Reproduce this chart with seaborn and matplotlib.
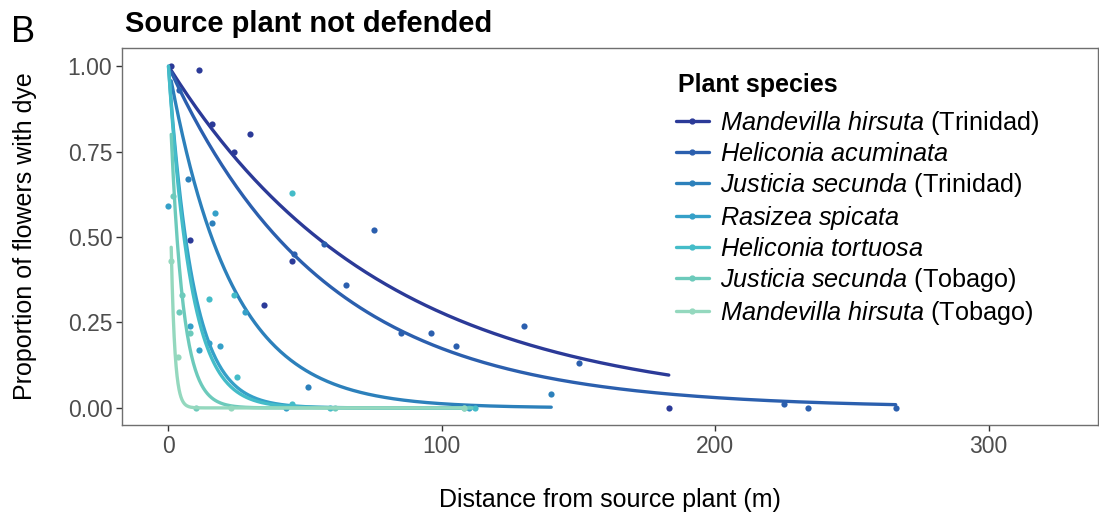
import numpy as np
import pandas as pd
import seaborn as sns
import matplotlib.pyplot as plt
from matplotlib.lines import Line2D

# species in legend order, with the island shown after the name
species = ['Mandevilla hirsuta', 'Heliconia acuminata', 'Justicia secunda',
           'Rasizea spicata', 'Heliconia tortuosa', 'Justicia secunda',
           'Mandevilla hirsuta']
island = ['Trinidad', '', 'Trinidad', '', '', 'Tobago', 'Tobago']
keys = ['MH_T', 'HA', 'JS_T', 'RS', 'HT', 'JS_Tob', 'MH_Tob']

dist_mh_trin = [1, 11, 16, 24, 30, 35, 45, 8, 183]
prop_mh_trin = [1.00, 0.99, 0.83, 0.75, 0.80, 0.30, 0.43, 0.49, 0.00]
dist_ha = [4, 46, 57, 65, 75, 85, 96, 105, 130, 150, 225, 234, 266]
prop_ha = [0.93, 0.45, 0.48, 0.36, 0.52, 0.22, 0.22, 0.18, 0.24, 0.13, 0.01, 0.00, 0.00]
dist_js_trin = [7, 16, 51, 140]
prop_js_trin = [0.67, 0.54, 0.06, 0.04]
dist_rs = [0, 17, 8, 11, 19, 15, 28, 43, 110]
prop_rs = [0.59, 0.57, 0.24, 0.17, 0.18, 0.19, 0.28, 0.00, 0.00]
dist_ht = [45, 24, 15, 25, 45, 59, 112]
prop_ht = [0.63, 0.33, 0.32, 0.09, 0.01, 0.00, 0.00]
dist_js_tob = [1.5, 5, 8, 4, 10, 61, 108]
prop_js_tob = [0.62, 0.33, 0.22, 0.28, 0.00, 0.00, 0.00]
dist_mh_tob = [1, 3.6, 23, 108]
prop_mh_tob = [0.43, 0.15, 0.00, 0.00]

# fitted exponential decay rate and span of each fitted curve
decay_rate = [0.0128, 0.0175, 0.044, 0.112, 0.122, 0.223, 0.755]
curve_from = [1, 1, 1, 0, 0, 1, 1]
curve_to = [183, 266, 140, 110, 112, 111, 108]

colors = ['#2b3a98', '#2b5fae', '#2c80bb', '#35a0c8', '#44bcc8', '#6ccabb', '#94d8be']

dists = [dist_mh_trin, dist_ha, dist_js_trin, dist_rs, dist_ht, dist_js_tob, dist_mh_tob]
props = [prop_mh_trin, prop_ha, prop_js_trin, prop_rs, prop_ht, prop_js_tob, prop_mh_tob]

pts = pd.concat([pd.DataFrame({'key': k, 'distance': d, 'prop': p})
                 for k, d, p in zip(keys, dists, props)])
curves = []
for k, r, a, b in zip(keys, decay_rate, curve_from, curve_to):
    d = np.linspace(a, b, 300)
    curves.append(pd.DataFrame({'key': k, 'distance': d, 'prop': np.exp(-r * d)}))
curves = pd.concat(curves)

sns.set_style('white')
plt.rcParams['font.family'] = ['Liberation Sans', 'DejaVu Sans']
plt.rcParams['mathtext.fontset'] = 'custom'
plt.rcParams['mathtext.it'] = 'Liberation Sans:italic'
plt.rcParams['mathtext.rm'] = 'Liberation Sans'
plt.rcParams['text.color'] = 'black'
plt.rcParams['axes.labelcolor'] = 'black'

fig = plt.figure(figsize=(10.99, 5.2), dpi=100)
ax = fig.add_axes([122 / 1099, 1 - 425 / 520, (1098 - 122) / 1099, (425 - 48) / 520])

pal = dict(zip(keys, colors))
for k in keys:
    sns.scatterplot(data=pts[pts.key == k], x='distance', y='prop', color=pal[k],
                    s=20, linewidth=0, legend=False, ax=ax, zorder=3)
    sns.lineplot(data=curves[curves.key == k], x='distance', y='prop', color=pal[k],
                 lw=2.4, estimator=None, legend=False, ax=ax, zorder=3)

ax.set_xlim(-17, 340)
ax.set_ylim(-0.05, 1.053)
ax.set_xticks([0, 100, 200, 300])
ax.set_yticks([0, 0.25, 0.5, 0.75, 1.0])
ax.set_yticklabels(['0.00', '0.25', '0.50', '0.75', '1.00'])
ax.tick_params(axis='both', direction='out', length=4, width=1, color='#333333',
               labelsize=16.5, labelcolor='#4d4d4d', pad=3, bottom=True, left=True)
for sp in ax.spines.values():
    sp.set_color('#6f6f6f')
    sp.set_linewidth(1)
ax.set_xlabel('Distance from source plant (m)', fontsize=18, labelpad=22)
ax.set_ylabel('Proportion of flowers with dye', fontsize=18, labelpad=22)

labels = []
for s, isl in zip(species, island):
    lab = r'$\mathit{' + s.replace(' ', r'\ ') + '}$'
    if isl:
        lab += ' (' + isl + ')'
    labels.append(lab)
handles = [Line2D([], [], color=c, lw=2.4, marker='o', markersize=3.5) for c in colors]
leg = ax.legend(handles, labels, loc='upper left',
                bbox_to_anchor=(676 / 1099, 1 - 109 / 520), bbox_transform=fig.transFigure,
                frameon=False, fontsize=18.2,
                handlelength=1.3, handletextpad=0.45, labelspacing=0.2, borderpad=0,
                borderaxespad=0)
fig.text(678 / 1099, 1 - 85 / 520, 'Plant species', fontsize=18, fontweight='bold',
         va='center', ha='left')

fig.text(125 / 1099, 1 - 24 / 520, 'Source plant not defended', fontsize=21,
         fontweight='bold', va='center', ha='left')
fig.text(11 / 1099, 1 - 32 / 520, 'B', fontsize=26, va='center', ha='left')

fig.savefig('out.png', dpi=100)
